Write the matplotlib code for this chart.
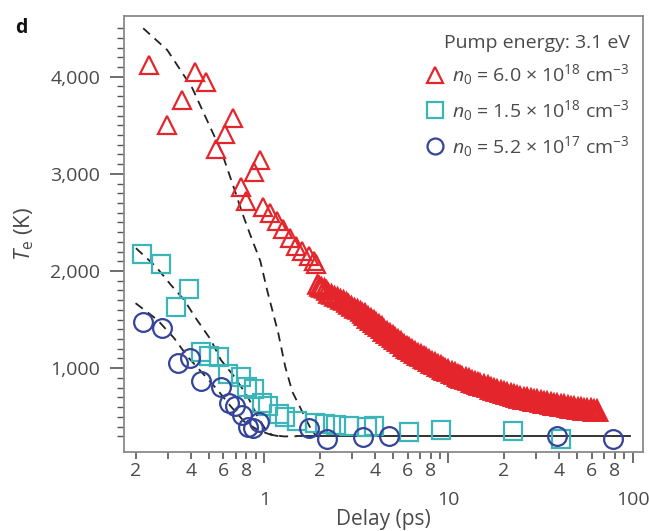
import matplotlib
matplotlib.use('Agg')
import matplotlib.pyplot as plt
from matplotlib.ticker import FixedLocator, FixedFormatter, NullFormatter

plt.rcParams['font.family'] = ['Open Sans', 'DejaVu Sans']
plt.rcParams['mathtext.fontset'] = 'custom'
plt.rcParams['mathtext.rm'] = 'Open Sans'
plt.rcParams['mathtext.it'] = 'Open Sans:italic'

TEXT = '#4a4a4a'
RED = '#e4252c'
CYAN = '#3db5b8'
NAVY = '#35449a'

# n0 = 6.0e18 (triangles), early sparse part
red_x = [0.238, 0.298, 0.358, 0.420, 0.484, 0.546, 0.611, 0.676, 0.743, 0.798,
         0.879, 0.943, 0.99, 1.075, 1.165, 1.265, 1.375, 1.49, 1.61, 1.74, 1.87,
         1.91]
red_y = [4118, 3500, 3758, 4049, 3946, 3254, 3408, 3579, 2866, 2725,
         3020, 3140, 2663, 2600, 2515, 2430, 2345, 2260, 2205, 2150, 2100,
         2070]
# n0 = 6.0e18, dense part (overlapping markers form a band)
red_band_x = [1.94, 1.98,
              2.03, 2.10, 2.17, 2.23, 2.31, 2.40, 2.49, 2.58, 2.67, 2.76,
              2.86, 2.97, 3.08, 3.19, 3.30, 3.41,
              3.54, 3.67, 3.80, 3.93, 4.05, 4.17,
              4.33, 4.49, 4.65, 4.82, 4.98, 5.15,
              5.35, 5.55, 5.76, 5.98, 6.14, 6.30,
              6.55, 6.81, 7.07, 7.34, 7.56, 7.79,
              8.10, 8.42, 8.75, 9.10, 9.36, 9.63,
              10.0, 10.4, 10.8, 11.2, 11.55, 11.9,
              12.4, 12.9, 13.4, 13.9, 14.4, 14.9,
              15.6, 16.3, 17.0, 17.7, 18.4, 19.2,
              20.0, 20.9, 21.8, 22.7, 23.6, 24.6,
              25.7, 26.8, 28.0, 29.2, 30.4, 31.6,
              33.0, 34.4, 35.9, 37.4, 39.0, 40.6,
              42.4, 44.3, 46.2, 48.2, 50.2, 52.2,
              54.4, 56.7, 59.1, 61.7, 64.3]
red_band_y = [1870, 1850,
              1840, 1822, 1800, 1775, 1762, 1748, 1730, 1712, 1698, 1682,
              1663, 1643, 1623, 1605, 1586, 1569,
              1544, 1520, 1497, 1475, 1455, 1435,
              1411, 1388, 1366, 1344, 1323, 1302,
              1279, 1256, 1233, 1210, 1194, 1178,
              1159, 1140, 1122, 1104, 1090, 1075,
              1058, 1041, 1025, 1008, 995, 983,
              968, 953, 938, 924, 912, 900,
              887, 874, 862, 850, 839, 828,
              815, 803, 791, 779, 768, 756,
              746, 735, 724, 714, 704, 694,
              687, 680, 673, 666, 659, 653,
              646, 639, 632, 625, 619, 612,
              606, 600, 595, 589, 583, 578,
              575, 572, 566, 560, 555]

# n0 = 1.5e18 (squares)
cyan_x = [0.218, 0.275, 0.332, 0.388, 0.451, 0.504, 0.565, 0.632, 0.747, 0.805,
          0.875, 0.975, 1.05, 1.20, 1.30, 1.505, 1.89, 2.14, 2.46, 2.90, 3.62,
          3.95, 6.1, 9.15, 22.3, 41.0]
cyan_y = [2179, 2073, 1631, 1819, 1165, 1127, 1113, 936, 910, 804,
          784, 640, 612, 530, 500, 461, 434, 427, 420, 410, 399,
          405, 343, 368, 350, 274]

# n0 = 5.2e17 (circles)
navy_x = [0.22, 0.280, 0.338, 0.396, 0.454, 0.581, 0.642, 0.696, 0.755, 0.815,
          0.873, 0.935, 1.75, 2.19, 3.44, 4.73, 39.0, 77.9]
navy_y = [1480, 1412, 1051, 1103, 872, 804, 645, 615, 519, 399,
          386, 442, 380, 272, 290, 307, 307, 272]

# model curves (dashed)
model_red_x = [0.220, 0.297, 0.406, 0.508, 0.584, 0.696, 0.759, 0.839, 0.951,
               1.04, 1.19, 1.30, 1.42, 1.61, 1.80, 1.92]
model_red_y = [4498, 4275, 3884, 3482, 3235, 2813, 2597, 2372, 2104,
               1790, 1363, 1013, 757, 550, 365, 300]
model_cyan_x = [0.201, 0.258, 0.311, 0.367, 0.425, 0.513, 0.581, 0.687, 0.812,
                0.92, 1.02, 1.10, 1.20]
model_cyan_y = [2235, 2045, 1857, 1703, 1514, 1291, 1085, 914, 708,
                502, 365, 314, 300]
model_navy_x = [0.20, 0.263, 0.324, 0.383, 0.462, 0.557, 0.659, 0.778, 0.92,
                1.09, 1.28, 1.5]
model_navy_y = [1669, 1497, 1309, 1119, 949, 777, 605, 451, 365,
                314, 298, 300]
base_x = [1.5, 97]
base_y = [300, 300]

labels = [r'$n_0$ = 6.0 × 10$^{18}$ cm$^{-3}$',
          r'$n_0$ = 1.5 × 10$^{18}$ cm$^{-3}$',
          r'$n_0$ = 5.2 × 10$^{17}$ cm$^{-3}$']

fig = plt.figure(figsize=(6.49, 5.31), dpi=100)
ax = fig.add_axes([0.191, 0.149, 0.800, 0.821])
ax.set_xscale('log')

dash_kw = dict(color='#222222', lw=1.3, dashes=(5, 3.5), zorder=1)
ax.plot(model_red_x, model_red_y, **dash_kw)
ax.plot(model_cyan_x, model_cyan_y, **dash_kw)
ax.plot(model_navy_x, model_navy_y, **dash_kw)
ax.plot(base_x, base_y, color='#222222', lw=1.3, zorder=1)

mk = dict(linestyle='none', mfc='none', ms=13.5, mew=1.6)
ax.plot(cyan_x, cyan_y, marker='s', mec=CYAN, label=labels[1], zorder=2, **mk)
ax.plot(navy_x, navy_y, marker='o', mec=NAVY, label=labels[2], zorder=3, **mk)
ax.plot(red_x, red_y, marker='^', mec=RED, label=labels[0], zorder=4, **mk)
# band: thinner outlines at the start, thicker where the markers merge
cut = 18
ax.plot(red_band_x[:cut + 1], red_band_y[:cut + 1], linestyle='none',
        marker='^', mfc='none', mec=RED, ms=13.0, mew=1.9, zorder=4)
ax.plot(red_band_x[cut:], red_band_y[cut:], linestyle='none',
        marker='^', mfc='none', mec=RED, ms=13.0, mew=2.8, zorder=4)

ax.set_xlim(0.173, 114)
ax.set_ylim(139, 4625)

# x ticks: 2 4 6 8 on minor, decades lower
ax.xaxis.set_major_locator(FixedLocator([1, 10, 100]))
ax.xaxis.set_major_formatter(FixedFormatter(['1', '10', '100']))
minors = []
minor_labels = []
for dec in [0.1, 1, 10]:
    for m in range(2, 10):
        minors.append(m * dec)
        minor_labels.append(str(m) if m % 2 == 0 else '')
ax.xaxis.set_minor_locator(FixedLocator(minors))
ax.xaxis.set_minor_formatter(FixedFormatter(minor_labels))

ax.yaxis.set_major_locator(FixedLocator([1000, 2000, 3000, 4000]))
ax.yaxis.set_major_formatter(FixedFormatter(['1,000', '2,000', '3,000', '4,000']))
ax.yaxis.set_minor_locator(FixedLocator(list(range(300, 4600, 100))))
ax.yaxis.set_minor_formatter(NullFormatter())

ax.tick_params(axis='x', which='major', direction='out', length=8, width=1.2,
               pad=20, labelsize=14, colors='#555555', labelcolor=TEXT)
ax.tick_params(axis='x', which='minor', direction='out', length=5, width=1.2,
               pad=2, labelsize=14, colors='#555555', labelcolor=TEXT)
ax.tick_params(axis='y', which='major', direction='out', length=10, width=1.2,
               pad=7, labelsize=14, colors='#555555', labelcolor=TEXT)
ax.tick_params(axis='y', which='minor', direction='out', length=5, width=1.0,
               colors='#555555')

for s in ax.spines.values():
    s.set_color('#8a8a8a')
    s.set_linewidth(1.3)

ax.set_xlabel('Delay (ps)', fontsize=15, color=TEXT, labelpad=0)
ax.set_ylabel(r'$T_{\rm e}$ (K)', fontsize=16, color=TEXT, labelpad=10)

handles, labs = ax.get_legend_handles_labels()
order = [2, 0, 1]
leg = ax.legend([handles[i] for i in order], [labs[i] for i in order],
                title='Pump energy: 3.1 eV', loc='upper right',
                bbox_to_anchor=(1.0, 0.99), frameon=False, numpoints=1,
                markerscale=0.85, handlelength=1.0, handletextpad=0.4,
                labelspacing=0.55, fontsize=14, title_fontsize=14,
                borderaxespad=0.3, labelcolor=TEXT)
leg.get_title().set_color(TEXT)
leg._legend_box.align = 'right'

fig.text(0.023, 0.938, 'd', fontsize=14, fontweight='bold', color='#111111')

fig.savefig('out.png', dpi=100)
